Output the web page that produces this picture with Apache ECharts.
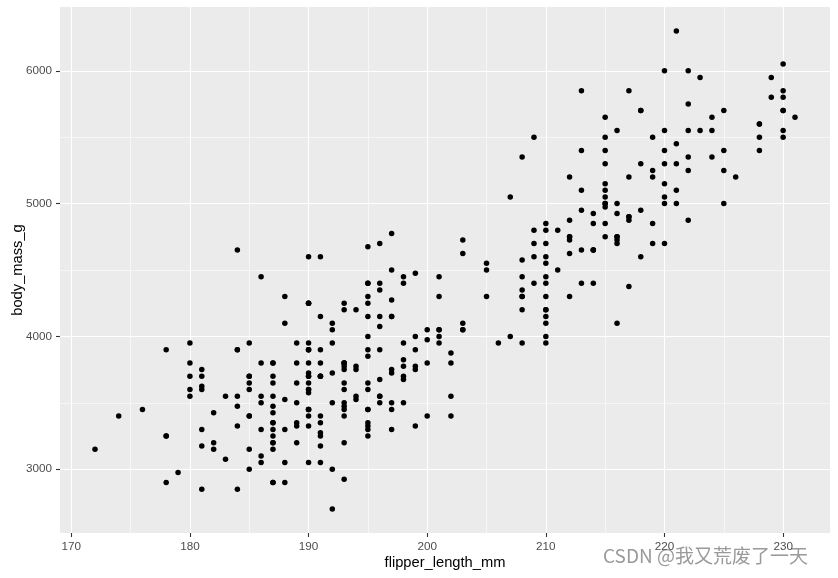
<!DOCTYPE html>
<html>
<head>
<meta charset="utf-8">
<script src="https://cdn.jsdelivr.net/npm/echarts@6/dist/echarts.min.js"></script>
<style>html,body{margin:0;padding:0;background:#fff}#c{width:838px;height:578px}</style>
</head>
<body>
<div id="c"></div>
<script>
const adelieFlipper = [181,186,195,193,190,181,195,193,190,186,180,182,191,198,185,195,197,184,194,174,180,189,185,180,187,183,187,172,180,178,178,188,184,195,196,190,180,181,184,182,195,186,196,185,190,182,179,190,191,186,188,190,200,187,191,186,193,181,194,185,195,185,192,184,192,195,188,190,198,190,190,196,197,190,195,191,184,187,195,189,196,187,193,191,194,190,189,189,190,202,205,185,186,187,208,190,196,178,192,192,203,183,190,193,184,199,190,181,197,198,191,193,197,191,196,188,199,189,189,187,198,176,202,186,199,191,195,191,210,190,197,193,199,187,190,191,200,185,193,193,187,188,190,192,185,190,184,195,193,187,201];
const adelieMass = [3750,3800,3250,3450,3650,3625,4675,3475,4250,3300,3700,3200,3800,4400,3700,3450,4500,3325,4200,3400,3600,3800,3950,3800,3800,3550,3200,3150,3950,3250,3900,3300,3900,3325,4150,3950,3550,3300,4650,3150,3900,3100,4400,3000,4600,3425,2975,3450,4150,3500,4300,3450,4050,2900,3700,3550,3800,2850,3750,3150,4400,3600,4050,2850,3950,3350,4100,3050,4450,3600,3900,3550,4150,3700,4250,3700,3900,3550,4000,3200,4700,3800,4200,3350,3550,3800,3500,3950,3600,3550,4300,3400,4450,3300,4300,3700,4350,2900,4100,3725,4725,3075,4250,2925,3550,3750,3900,3175,4775,3825,4600,3200,4275,3900,4075,2900,3775,3350,3325,3150,3500,3450,3875,3050,4000,3275,4300,3050,4000,3325,3500,3500,4475,3425,3900,3175,3975,3400,4250,3400,3475,3050,3725,3000,3650,4250,3475,3450,3750,3700,4000];
const gentooFlipper = [211,230,210,218,215,210,211,219,209,215,214,216,214,213,210,217,210,221,209,222,218,215,213,215,215,215,216,215,210,220,222,209,207,230,220,220,213,219,208,208,208,225,210,216,222,217,210,225,213,215,210,220,210,225,217,220,208,220,208,224,208,221,214,231,219,230,214,229,220,223,216,221,221,217,216,230,209,220,215,223,212,221,212,224,212,228,218,218,212,230,218,228,212,224,214,226,216,222,203,225,219,228,215,228,216,215,210,219,208,209,216,229,213,230,217,230,217,222,214,215,222,212,213];
const gentooMass = [4500,5700,4450,5700,5400,4550,4800,5200,4400,5150,4650,5550,4650,5850,4200,5850,4150,6300,4800,5350,5700,5000,4400,5050,5000,5100,4100,5650,4600,5550,5250,4700,5050,6050,5150,5400,4950,5250,4350,5350,3950,5700,4300,4750,5550,4900,4200,5400,5100,5300,4850,5300,4400,5000,4900,5050,4300,5000,4450,5550,4200,5300,4400,5650,4700,5700,4650,5800,4700,5550,4750,5000,5100,5200,4700,5800,4600,6000,4750,5950,4625,5450,4725,5350,4750,5600,4600,5300,4875,5550,4950,5400,4750,5650,4850,5200,4925,4875,4625,5250,4850,5600,4975,5500,4725,5500,4700,5500,4575,5500,5000,5950,4650,5500,4375,5850,4875,6000,4925,4850,5750,5200,5400];
const chinstrapFlipper = [192,196,193,188,197,198,178,197,195,198,193,194,185,201,190,201,197,181,190,195,181,191,187,193,195,197,200,200,191,205,187,201,187,203,195,199,195,210,192,205,210,187,196,196,196,201,190,212,187,198,199,201,193,203,187,197,191,203,202,194,206,189,195,207,202,193,210,198];
const chinstrapMass = [3500,3900,3650,3525,3725,3950,3250,3750,4150,3700,3800,3775,3700,4050,3575,4050,3300,3700,3450,4400,3600,3400,2900,3800,3300,4150,3400,3800,3700,4550,3200,4300,3350,4100,3600,3900,3850,4800,2700,4500,3950,3650,3550,3500,3675,4450,3400,4300,3250,3675,3325,3950,3600,4050,3350,3450,3250,4050,3800,3525,3950,3650,3650,4000,3400,3775,4100,3775];

const xTicks = [170,180,190,200,210,220,230];
const xMinor = [175,185,195,205,215,225];
const yTicks = [3000,4000,5000,6000];
const yMinor = [3500,4500,5500];

function pairs(xs, ys) {
  const n = Math.min(xs.length, ys.length);
  const out = [];
  for (let i = 0; i < n; i++) out.push([xs[i], ys[i]]);
  return out;
}
const allX = adelieFlipper.concat(gentooFlipper, chinstrapFlipper);
const allY = adelieMass.concat(gentooMass, chinstrapMass);
const xMin = Math.min(...allX), xMax = Math.max(...allX);
const yMin = Math.min(...allY), yMax = Math.max(...allY);
const xPad = (xMax - xMin) * 0.05, yPad = (yMax - yMin) * 0.05;

const labelFont = {color: '#4D4D4D', fontSize: 11.7, fontFamily: 'Liberation Sans', formatter: v => String(Math.round(v))};
const gridLines = [];
xTicks.forEach(v => gridLines.push({xAxis: v, lineStyle: {width: 1.1}}));
xMinor.forEach(v => gridLines.push({xAxis: v, lineStyle: {width: 0.55}}));
yTicks.forEach(v => gridLines.push({yAxis: v, lineStyle: {width: 1.1}}));
yMinor.forEach(v => gridLines.push({yAxis: v, lineStyle: {width: 0.55}}));

const pointStyle = {type: 'scatter', symbol: 'circle', symbolSize: 5.5, itemStyle: {color: '#000', opacity: 1}, z: 3, silent: true, animation: false};

const chart = echarts.init(document.getElementById('c'), null, {renderer: 'canvas'});
chart.setOption({
  animation: false,
  backgroundColor: '#ffffff',
  grid: {left: 60, right: 8, top: 7, bottom: 45, show: true, backgroundColor: '#EBEBEB', borderWidth: 0, containLabel: false, outerBoundsMode: 'none'},
  xAxis: {
    type: 'value', min: xMin - xPad, max: xMax + xPad,
    name: 'flipper_length_mm', nameLocation: 'middle', nameGap: 22, nameMoveOverlap: false,
    nameTextStyle: {color: '#000', fontSize: 14.7, fontFamily: 'Liberation Sans'},
    axisLine: {show: false},
    axisTick: {show: true, length: 4, lineStyle: {color: '#333333', width: 1.1}, customValues: xTicks},
    axisLabel: Object.assign({margin: 8, customValues: xTicks}, labelFont),
    splitLine: {show: false}
  },
  yAxis: {
    type: 'value', min: yMin - yPad, max: yMax + yPad,
    name: 'body_mass_g', nameLocation: 'middle', nameGap: 35, nameMoveOverlap: false,
    nameTextStyle: {color: '#000', fontSize: 14.7, fontFamily: 'Liberation Sans'},
    axisLine: {show: false},
    axisTick: {show: true, length: 4, lineStyle: {color: '#333333', width: 1.1}, customValues: yTicks},
    axisLabel: Object.assign({margin: 8, customValues: yTicks}, labelFont),
    splitLine: {show: false}
  },
  graphic: [{
    type: 'text', left: 603, top: 546, silent: true,
    style: {text: 'CSDN @我又荒废了一天', fill: '#9a9a9a', font: '19px "Noto Sans CJK SC"'}
  }],
  series: [
    {type: 'scatter', data: [], silent: true, z: 1,
     markLine: {silent: true, symbol: ['none', 'none'], z: 1, animation: false, label: {show: false},
       lineStyle: {color: '#ffffff', type: 'solid'}, emphasis: {disabled: true}, data: gridLines}},
    Object.assign({name: 'Adelie', data: pairs(adelieFlipper, adelieMass)}, pointStyle),
    Object.assign({name: 'Gentoo', data: pairs(gentooFlipper, gentooMass)}, pointStyle),
    Object.assign({name: 'Chinstrap', data: pairs(chinstrapFlipper, chinstrapMass)}, pointStyle)
  ]
});
</script>
</body>
</html>
